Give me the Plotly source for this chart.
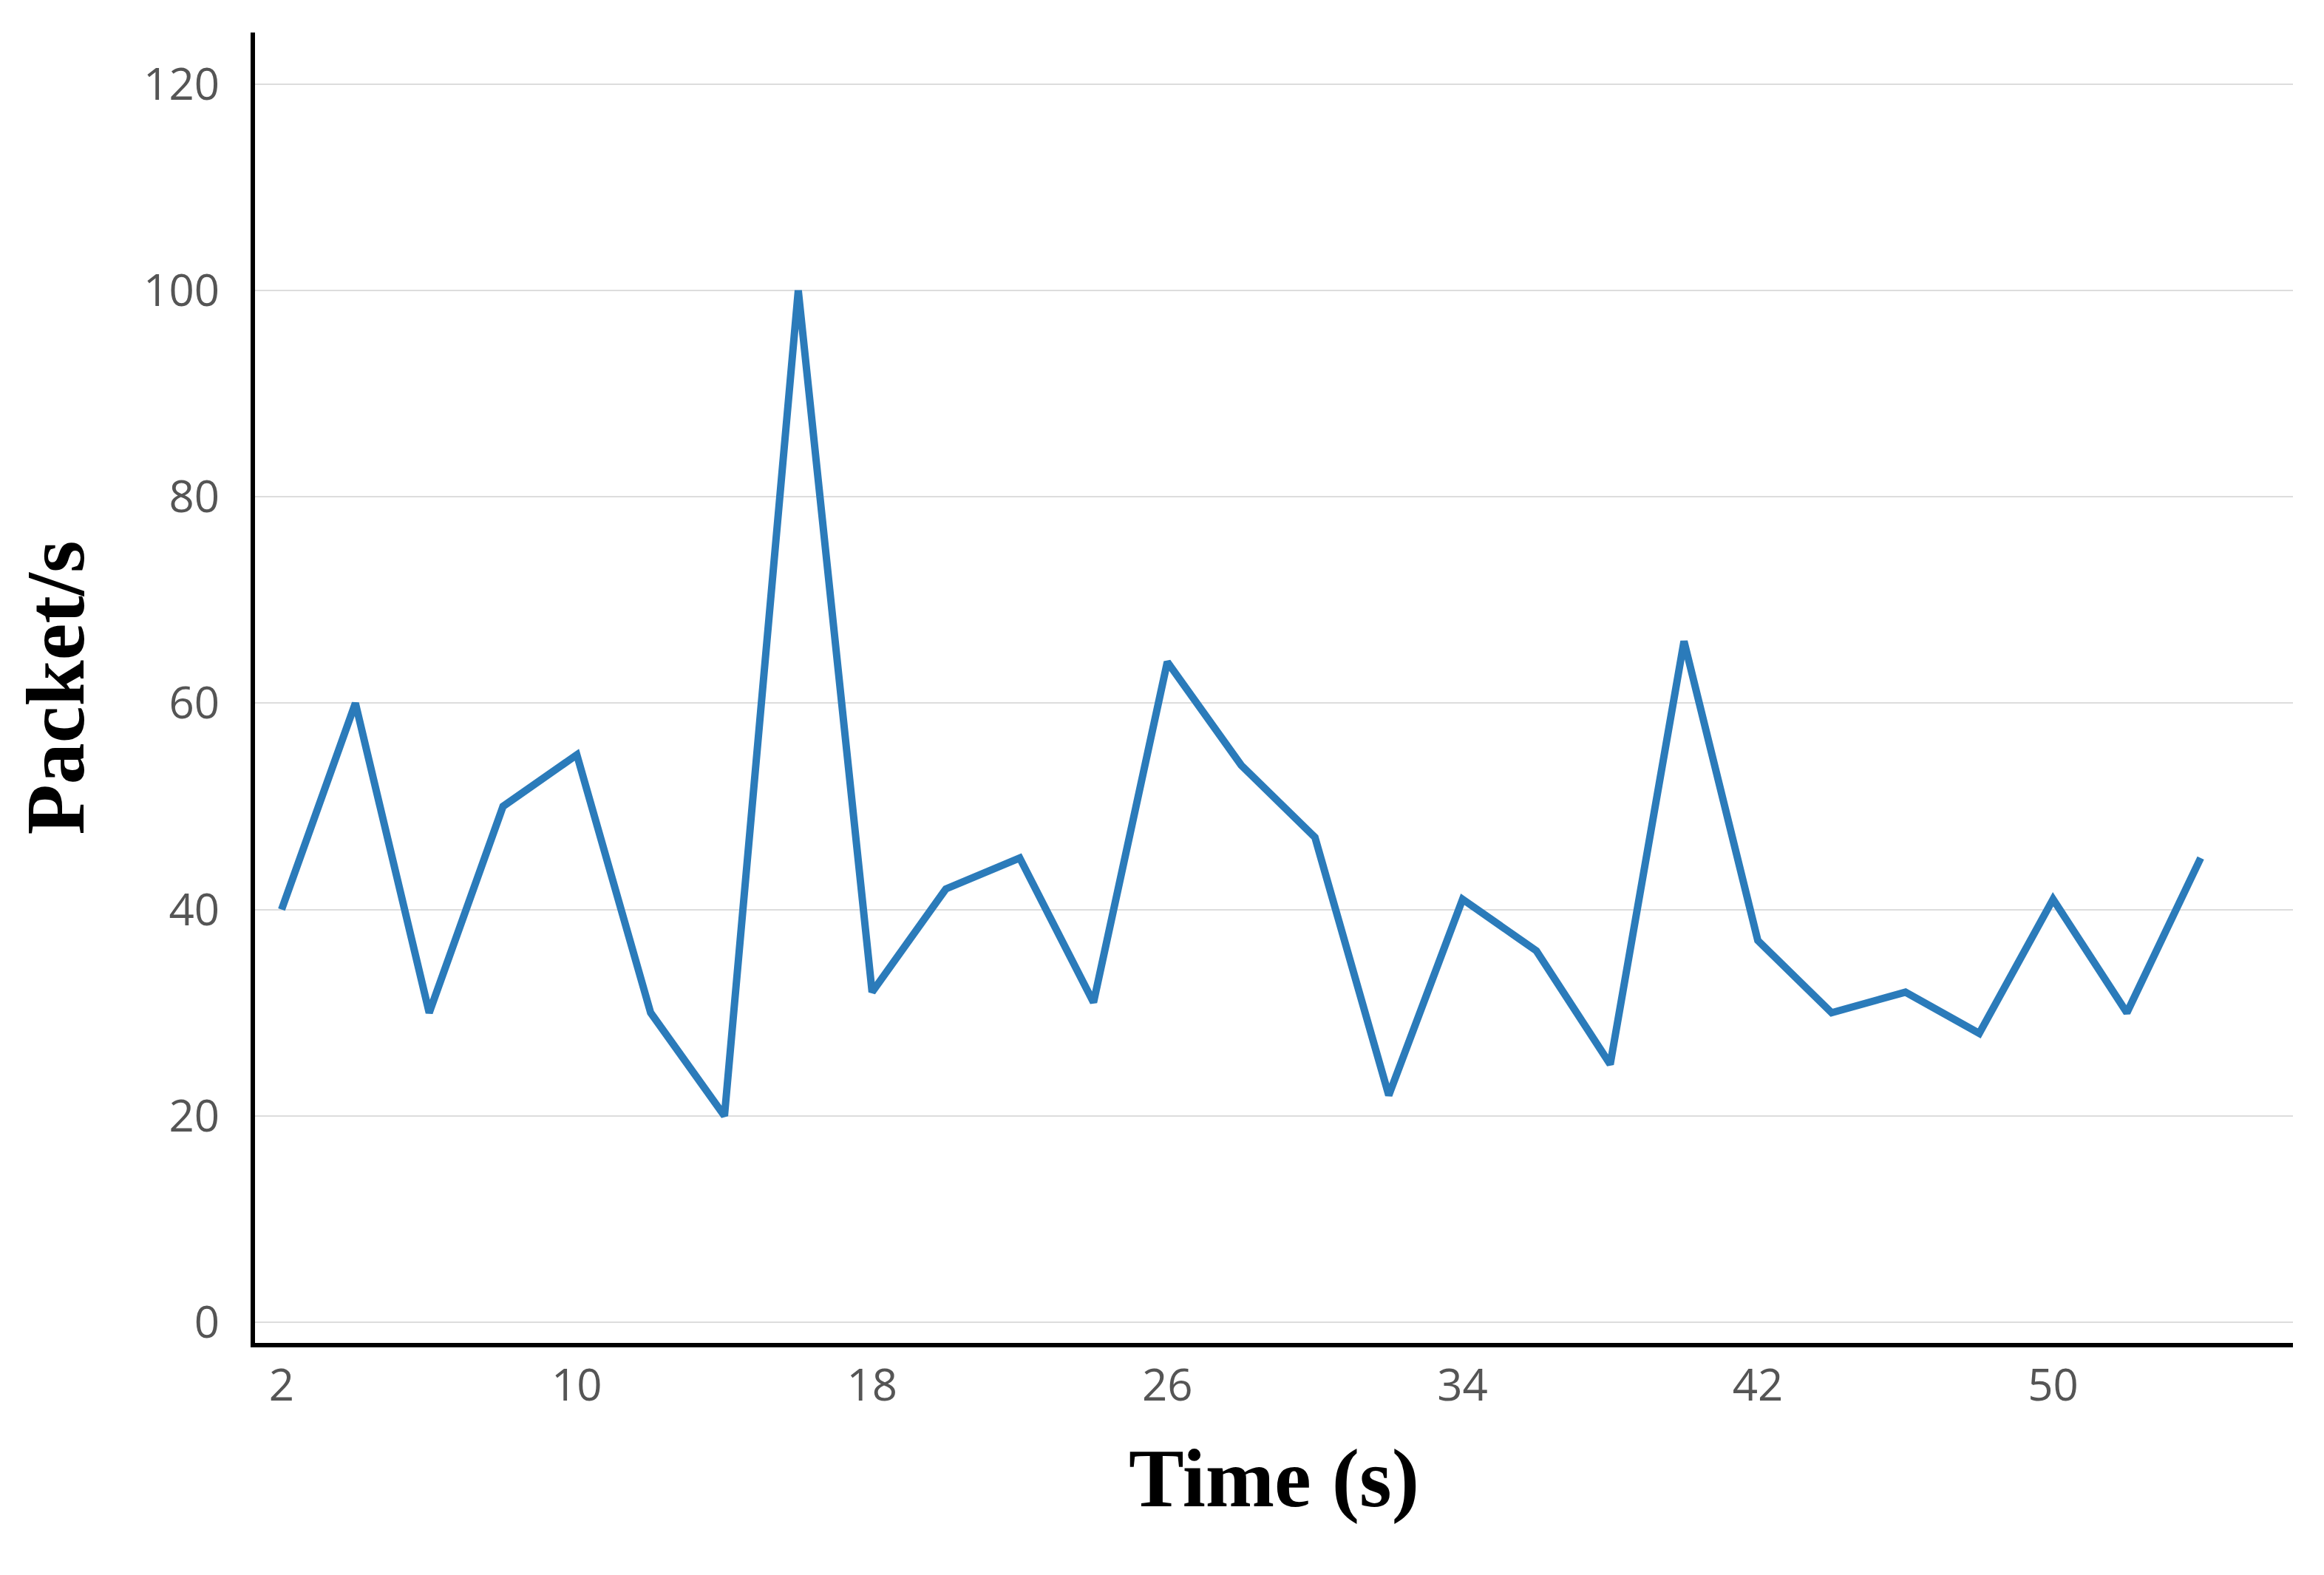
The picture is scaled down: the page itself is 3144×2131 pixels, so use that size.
import plotly.graph_objects as go

time_s = list(range(2, 56, 2))
packets = [40, 60, 30, 50, 55, 30, 20, 100, 32, 42, 45, 31, 64, 54, 47, 22, 41, 36, 25, 66, 37, 30, 32, 28, 41, 30, 45]
x_ticks = [2, 10, 18, 26, 34, 42, 50]
y_ticks = [0, 20, 40, 60, 80, 100, 120]

fig = go.Figure(go.Scatter(x=time_s, y=packets, mode="lines",
                           line=dict(color="#2b7bba", width=10)))
fig.update_layout(
    width=3144, height=2131, paper_bgcolor="white", plot_bgcolor="white",
    margin=dict(l=337, r=50, t=36, b=322), showlegend=False,
)
fig.update_xaxes(range=[1.28, 56.5], tickvals=x_ticks, showgrid=False,
                 showline=True, linecolor="black", linewidth=6, ticks="",
                 tickfont=dict(family="Open Sans", size=60, color="#555555"),
                 title=dict(text="<b>Time (s)</b>", standoff=50,
                            font=dict(family="Liberation Serif", size=112, color="black")))
fig.update_yaxes(range=[-2, 125], tickvals=y_ticks, showgrid=True, gridcolor="#dddddd",
                 gridwidth=2, zeroline=False, showline=True, linecolor="black", linewidth=6,
                 ticks="", ticklabelstandoff=30,
                 tickfont=dict(family="Open Sans", size=60, color="#555555"),
                 title=dict(text="<b>Packet/s</b>", standoff=45,
                            font=dict(family="Liberation Serif", size=112, color="black")))
fig.write_html("out.html")
